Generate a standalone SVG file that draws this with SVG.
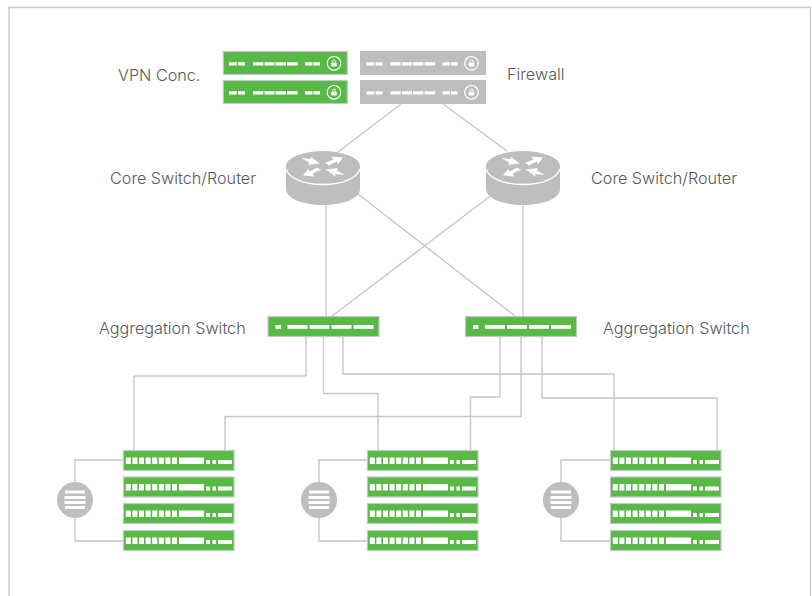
<svg xmlns="http://www.w3.org/2000/svg" width="812" height="596" viewBox="0 0 812 596">
<style>
text{font-family:"Inter","Lato","Liberation Sans",sans-serif;font-size:16.2px;font-weight:300;fill:#58595b}
.c{fill:none;stroke:#c6c7c9;stroke-width:1.4}
.g{fill:#58b947;stroke:#c4c6c8;stroke-width:1.2}
.y{fill:#bcbec0}
.w{fill:#fff}
</style>
<defs>
<g id="vpn"><path class="w" d="M6 11.200h7.700v3.200H6zM15 11.200h7v3.200H15zM30 11.200h10.300v3.200H30zM41.500 11.200h10v3.200H41.500zM52.500 11.200h10.500v3.200H52.500zM64 11.200h10.700v3.200H64zM82 11.200h7.500v3.200H82zM90.500 11.200h6.500v3.200H90.500z"/><circle cx="111" cy="12.300" r="6.800" fill="none" stroke="#fff" stroke-width="1.200"/><rect x="108.300" y="11.500" width="5.400" height="4" rx=".8" class="w"/><path d="M109.500 11.500v-1a1.500 1.500 0 0 1 3 0v1" fill="none" stroke="#fff" stroke-width=".9"/></g>
<g id="srv"><rect x=".5" y=".5" width="110.500" height="20" class="g"/><g class="w"><rect x="2.800" y="7.500" width="5" height="6.500"/><rect x="9.400" y="7.500" width="5" height="6.500"/><rect x="16" y="7.500" width="5" height="6.500"/><rect x="22.600" y="7.500" width="5" height="6.500"/><rect x="29.200" y="7.500" width="5" height="6.500"/><rect x="35.800" y="7.500" width="5" height="6.500"/><rect x="42.400" y="7.500" width="5" height="6.500"/><rect x="49" y="7.500" width="5" height="6.500"/><rect x="56" y="7.500" width="25" height="6.500"/><rect x="83" y="10" width="4" height="4"/><rect x="89.500" y="10" width="3.500" height="4"/><rect x="95" y="10" width="14" height="4"/></g></g>
<g id="agg"><rect x=".5" y=".5" width="111" height="20" class="g"/><g class="w"><rect x="8" y="9" width="5.500" height="3.800"/><rect x="20" y="9" width="20" height="3.800"/><rect x="42" y="9" width="20" height="3.800"/><rect x="64" y="9" width="20" height="3.800"/><rect x="86" y="9" width="20" height="3.800"/></g></g>
<g id="rtr"><path d="M0 15v23c0 9 16 16 37 16s37-7 37-16V15z" class="y"/><ellipse cx="37" cy="15" rx="37" ry="15" class="y"/><path d="M0 18c3 9 17 15.500 37 15.500s34-6.500 37-15.500" fill="none" stroke="#fff" stroke-width="1.300"/><g class="w"><path d="M15 7L25 8L24.500 5.500L34 12.500L22 14L23.500 11.500z"/><path d="M59 24L49 23L49.500 25.500L40 18.500L52 17L50.500 19.500z"/><path d="M57 6.500L45 5.500L47.500 8.500L39 12L43 14.500L50.500 10.500L52 13z"/><path d="M17 24.500L29 25.500L26.500 22.500L35 19L31 16.500L23.500 20.500L22 18z"/></g></g>
<g id="dsk"><circle cx="18" cy="18" r="18" class="y"/><g class="w"><rect x="8" y="8.500" width="20" height="3"/><rect x="7.500" y="14" width="21" height="3"/><rect x="7.500" y="19" width="21" height="3"/><rect x="8" y="24" width="20" height="3"/></g></g>
</defs>
<rect width="812" height="596" fill="#fff"/>
<path d="M9 596V7.500H810.500V596" fill="none" stroke="#c6c7c9" stroke-width="1.300"/>
<g id="connectors">
<path class="c" d="M401 104L338 152M443 104L507 151M326 205V316M523 205V316M358 194L515 316M493 194L332 316"/>
<path class="c" d="M306 337V376H134V450M323.500 337V393.500H378V450M343 337V374H614V450M500 337V397H470.500V450M521 337V416.500H225V450M542 337V398H717V450"/>
<path class="c" d="M123 460H75V541H123M367 460H319V541H367M610 460H561V541H610"/>
</g>
<g id="vpn1"><rect x="223.300" y="51.500" width="124" height="23" class="g"/><use href="#vpn" x="223" y="51"/></g>
<g id="vpn2"><rect x="223.300" y="80.500" width="124" height="23" class="g"/><use href="#vpn" x="223" y="80"/></g>
<g id="fw1"><rect x="360" y="51" width="126" height="24" class="y"/><use href="#vpn" x="360.500" y="51"/></g>
<g id="fw2"><rect x="360" y="80" width="126" height="24" class="y"/><use href="#vpn" x="360.500" y="80"/></g>
<g id="router1"><use href="#rtr" x="286" y="151"/></g>
<g id="router2"><use href="#rtr" x="486" y="151"/></g>
<g id="agg1"><use href="#agg" x="267.500" y="316"/></g>
<g id="agg2"><use href="#agg" x="465" y="316"/></g>
<g id="rack1"><use href="#srv" x="123" y="450"/><use href="#srv" x="123" y="476.500"/><use href="#srv" x="123" y="503"/><use href="#srv" x="123" y="530"/></g>
<g id="rack2"><use href="#srv" x="367" y="450"/><use href="#srv" x="367" y="476.500"/><use href="#srv" x="367" y="503"/><use href="#srv" x="367" y="530"/></g>
<g id="rack3"><use href="#srv" x="610" y="450"/><use href="#srv" x="610" y="476.500"/><use href="#srv" x="610" y="503"/><use href="#srv" x="610" y="530"/></g>
<g id="disk1"><use href="#dsk" x="57" y="482"/></g>
<g id="disk2"><use href="#dsk" x="301" y="482"/></g>
<g id="disk3"><use href="#dsk" x="543" y="482"/></g>
<g id="labels">
<text x="118" y="81">VPN Conc.</text>
<text x="507" y="80">Firewall</text>
<text x="110" y="184">Core Switch/Router</text>
<text x="591" y="184">Core Switch/Router</text>
<text x="99" y="334">Aggregation Switch</text>
<text x="603" y="334">Aggregation Switch</text>
</g>
</svg>
